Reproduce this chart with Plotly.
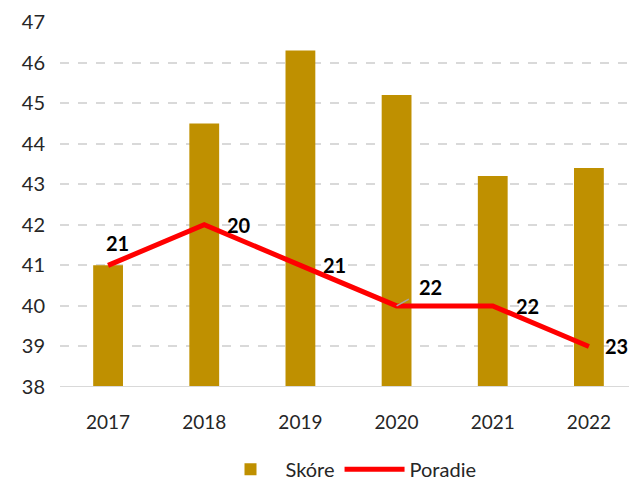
import plotly.graph_objects as go

years = ["2017", "2018", "2019", "2020", "2021", "2022"]
skore = [41.0, 44.5, 46.3, 45.2, 43.2, 43.4]
poradie = [21, 20, 21, 22, 22, 23]

# label offsets in px (dx, dy) relative to each line point
label_offsets = [(9, 22), (35, 0), (34, 0), (34, 19), (35, 0), (28, 0)]

fig = go.Figure()
fig.add_trace(go.Bar(
    x=years, y=skore, name="Skóre",
    marker=dict(color="#bf9000", line=dict(width=0)),
    width=0.31, yaxis="y"
))
fig.add_trace(go.Scatter(
    x=years, y=poradie, name="Poradie", mode="lines",
    line=dict(color="#ff0000", width=5),
    yaxis="y2"
))

# category axis positions are the category indices
for i, (rank, (dx, dy)) in enumerate(zip(poradie, label_offsets)):
    if years[i] == "2020":
        fig.add_annotation(
            x=i, y=rank, xref="x", yref="y2", text="<b>%d</b>" % rank,
            showarrow=True, ax=dx, ay=-dy, arrowhead=0, arrowwidth=1.5,
            arrowcolor="#a6a6a6", standoff=0, startstandoff=10,
            font=dict(size=20, color="black", family="Lato")
        )
    else:
        fig.add_annotation(
            x=i, y=rank, xref="x", yref="y2", text="<b>%d</b>" % rank,
            showarrow=False, xshift=dx, yshift=dy,
            font=dict(size=20, color="black", family="Lato")
        )

# page body adds an 8px margin, so the figure is sized to fit inside it
fig.update_layout(
    width=629, height=474,
    margin=dict(l=52, r=0, t=14, b=95, autoexpand=False),
    paper_bgcolor="white", plot_bgcolor="white",
    font=dict(family="Lato", size=19, color="#262626"),
    xaxis=dict(type="category", range=[-0.5, 5.5], showgrid=False,
               showline=False, ticks="", tickfont=dict(size=19),
               ticklabelstandoff=22, automargin=False),
    yaxis=dict(range=[38, 47], dtick=1, showgrid=True, gridcolor="#d9d9d9",
               griddash="dash", gridwidth=2, zeroline=False, showline=False,
               ticks="", tickfont=dict(size=20), ticklabelstandoff=14,
               automargin=False),
    yaxis2=dict(range=[24, 15], overlaying="y", side="right", visible=False,
                showgrid=False),
    legend=dict(orientation="h", x=0.5, xanchor="center", y=-0.225, yanchor="middle",
                font=dict(size=20), traceorder="normal", itemwidth=60),
    showlegend=True,
)
fig.add_shape(type="line", xref="paper", yref="y", x0=0, x1=1, y0=38, y1=38,
              line=dict(color="#d9d9d9", width=2))

fig.write_html("out.html")
